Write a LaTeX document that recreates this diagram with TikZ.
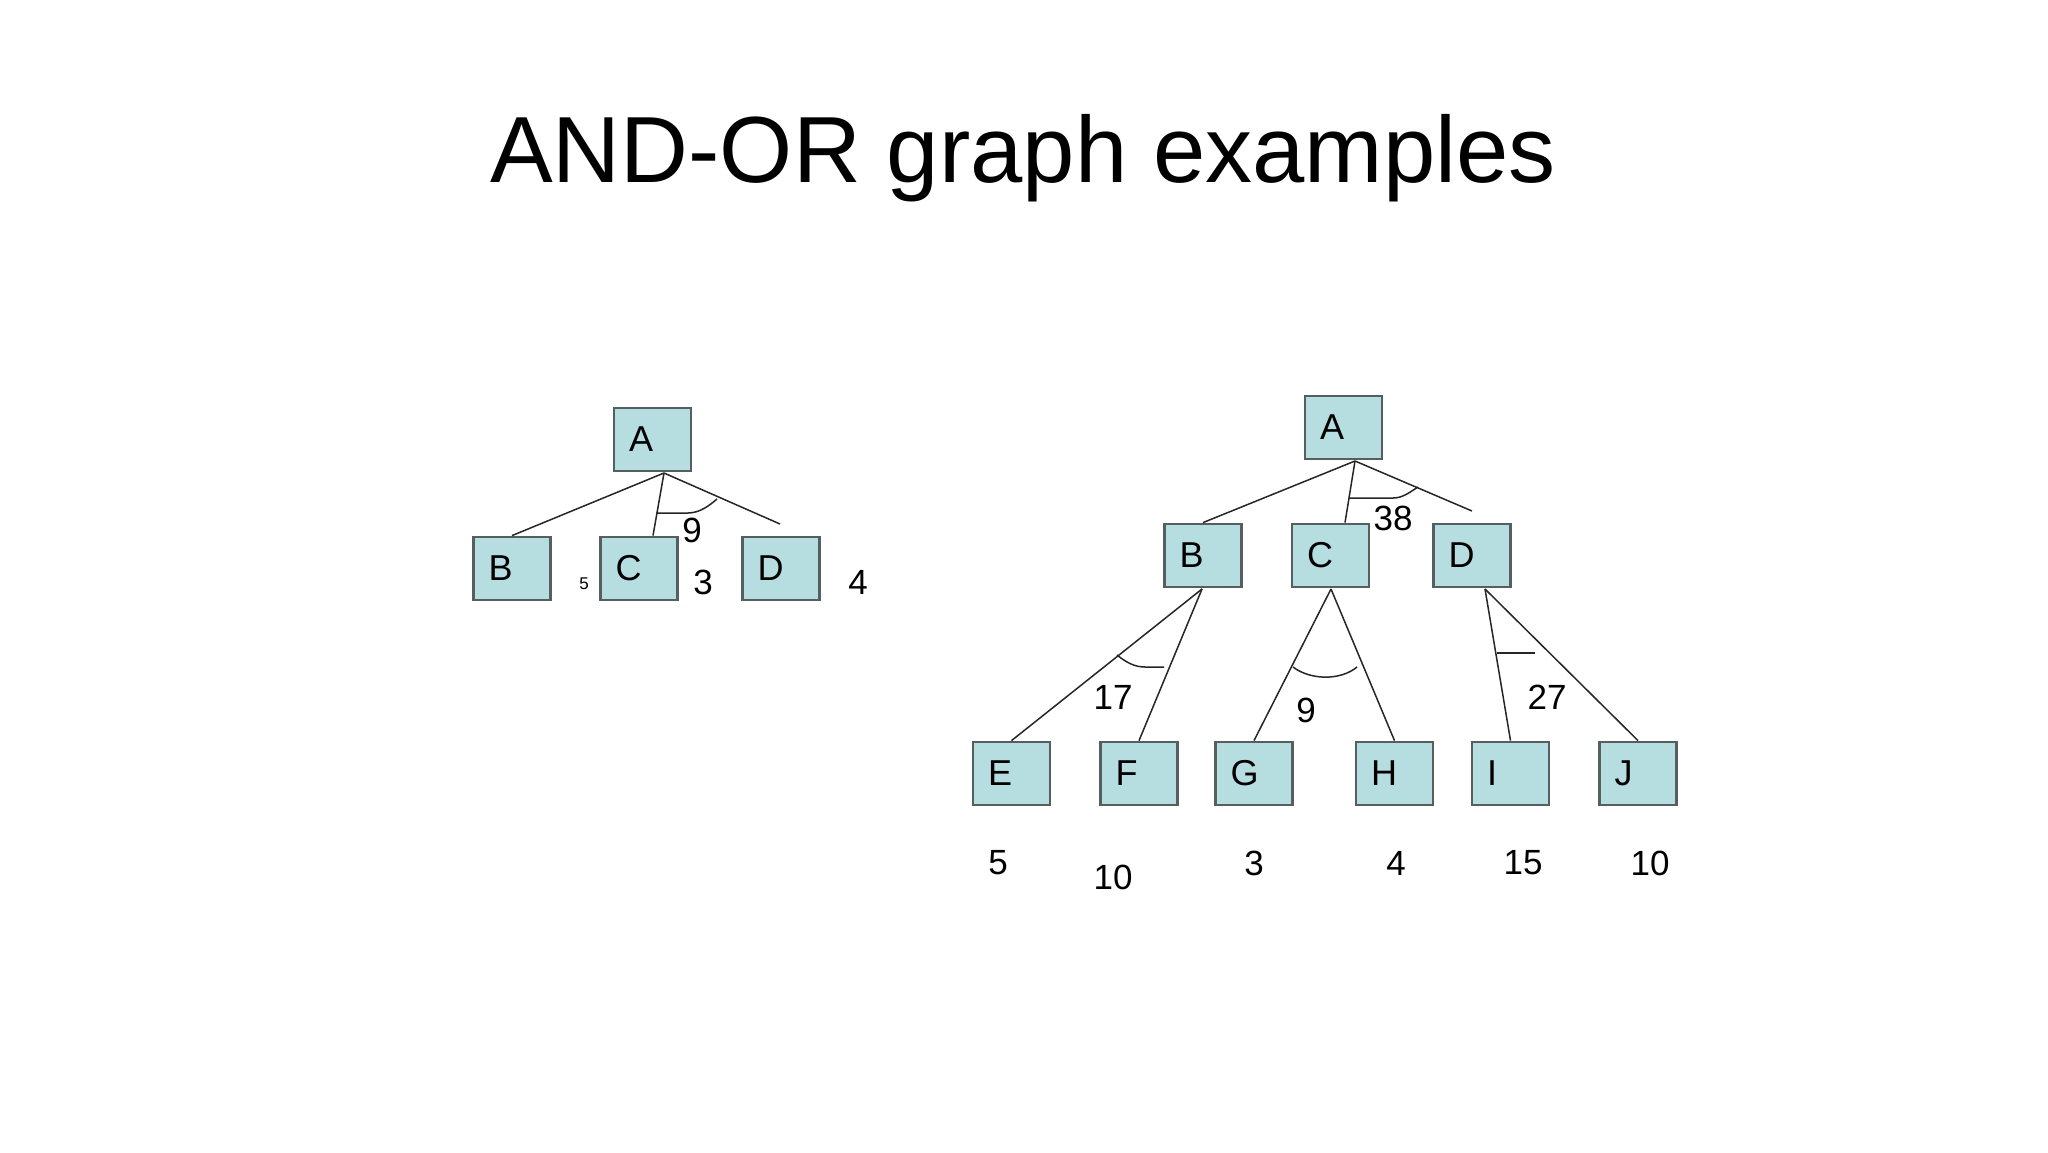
\documentclass[tikz,border=0pt]{standalone}
\usepackage{fontspec}
\setmainfont{Liberation Sans}
\definecolor{boxfill}{RGB}{182,221,224}
\definecolor{boxborder}{RGB}{85,95,95}
\begin{document}
\begin{tikzpicture}[x=1pt,y=-1pt,
  box/.style={draw=boxborder, fill=boxfill, line width=2.8pt, minimum height=63pt,
    text width=47pt, align=left, inner xsep=15pt, inner ysep=0pt,
    font=\fontsize{36}{42}\selectfont},
  edge/.style={line width=1.5pt, black!85},
  lbl/.style={font=\fontsize{35}{40}\selectfont, inner sep=0pt},
  small/.style={font=\fontsize{17}{20}\selectfont, inner sep=0pt}]
\useasboundingbox (0,0) rectangle (2048,1152);
\fill[white] (0,0) rectangle (2048,1152);
% title
\node[anchor=base, inner sep=0pt, font=\fontsize{94}{110}\selectfont] (title) at (1023,182) {AND-OR graph examples};

% left graph
\node[box] (lA) at (652.5,439.5) {A};
\node[box] (lB) at (512,568.5) {B};
\node[box] (lC) at (639,568.5) {C};
\node[box] (lD) at (781,568.5) {D};
\coordinate (lhub) at (664,473);
\coordinate (lDend) at (780,524);
\draw[edge] (lhub) -- (lB.north);
\draw[edge] (lhub) -- ([xshift=14pt]lC.north);
\draw[edge] (lhub) -- (lDend);
\draw[edge] (656,513) -- (688,513) .. controls (700,513) and (710,505) .. (717,499);
\node[lbl] (l9) at (692,530) {9};
\node[small] (l5) at (584,584) {5};
\node[lbl] (l3) at (703,582) {3};
\node[lbl] (l4) at (858,582) {4};

% right graph
\node[box] (A) at (1343.5,427.5) {A};
\node[box] (B) at (1203,555.5) {B};
\node[box] (C) at (1330.5,555.5) {C};
\node[box] (D) at (1472,555.5) {D};
\node[box] (E) at (1011.5,773.5) {E};
\node[box] (F) at (1139,773.5) {F};
\node[box] (G) at (1254,773.5) {G};
\node[box] (H) at (1394.5,773.5) {H};
\node[box] (I) at (1510.5,773.5) {I};
\node[box] (J) at (1638,773.5) {J};

\coordinate (hA) at (1355,461);
\coordinate (hB) at (1202,589);
\coordinate (hC) at (1331,589);
\coordinate (hD) at (1485,589);
\coordinate (Dend) at (1472,511);

\draw[edge] (hA) -- (B.north);
\draw[edge] (hA) -- ([xshift=14.5pt]C.north);
\draw[edge] (hA) -- (Dend);
\draw[edge] (hB) -- (E.north);
\draw[edge] (hB) -- (F.north);
\draw[edge] (hC) -- (G.north);
\draw[edge] (hC) -- (H.north);
\draw[edge] (hD) -- (I.north);
\draw[edge] (hD) -- (J.north);

% AND arcs
\draw[edge] (1349,498) -- (1393,498) .. controls (1403,498) and (1410,492) .. (1418,487);
\draw[edge] (1117,655) .. controls (1127,663) and (1135,667) .. (1145,667) -- (1164,667);
\draw[edge] (1293,667) .. controls (1310,680) and (1340,681) .. (1357,667);
\draw[edge] (1497,653) -- (1535,653);

\node[lbl] (r38) at (1393,518) {38};
\node[lbl] (r17) at (1113,697) {17};
\node[lbl] (r9) at (1306,710) {9};
\node[lbl] (r27) at (1547,697) {27};

\node[lbl] (vE) at (998,863) {5};
\node[lbl] (vF) at (1113,877) {10};
\node[lbl] (vG) at (1254,863) {3};
\node[lbl] (vH) at (1396,863) {4};
\node[lbl] (vI) at (1523,863) {15};
\node[lbl] (vJ) at (1650,863) {10};
\end{tikzpicture}
\end{document}
